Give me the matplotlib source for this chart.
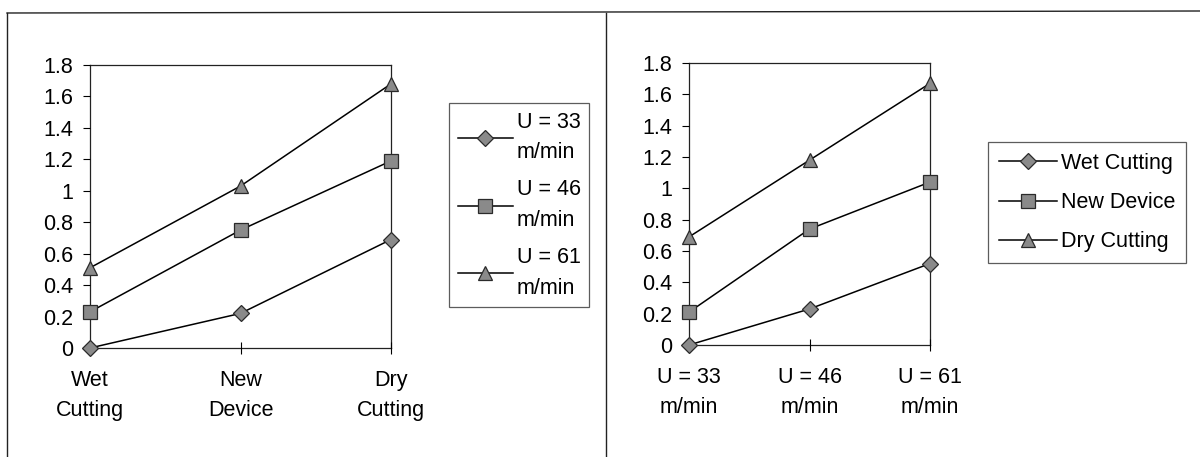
import matplotlib
matplotlib.use("Agg")
import matplotlib.pyplot as plt
from matplotlib.lines import Line2D

plt.rcParams['font.family'] = ['Liberation Sans', 'DejaVu Sans']

conditions = ["Wet\nCutting", "New\nDevice", "Dry\nCutting"]
condition_names = ["Wet Cutting", "New Device", "Dry Cutting"]
speeds = ["U = 33\nm/min", "U = 46\nm/min", "U = 61\nm/min"]

# values per speed across conditions (Wet, New, Dry)
u33 = [0.0, 0.22, 0.69]
u46 = [0.23, 0.75, 1.19]
u61 = [0.51, 1.03, 1.68]

# values per condition across speeds (U33, U46, U61)
wet = [0.0, 0.23, 0.52]
new = [0.21, 0.74, 1.04]
dry = [0.69, 1.18, 1.67]

yticks = [0, 0.2, 0.4, 0.6, 0.8, 1, 1.2, 1.4, 1.6, 1.8]
ytick_labels = ["0", "0.2", "0.4", "0.6", "0.8", "1", "1.2", "1.4", "1.6", "1.8"]

W, H = 1200, 457
fig = plt.figure(figsize=(W / 100, H / 100), dpi=100)

FS = 15.5
markers = [("D", 8.5), ("s", 9.5), ("^", 10.5)]
fill = "#8a8a8a"
edge = "#2a2a2a"


def px_axes(x0, y0, x1, y1):
    return fig.add_axes([x0 / W, 1 - y1 / H, (x1 - x0) / W, (y1 - y0) / H])


def style(ax, xlabels):
    ax.set_xlim(0, 2)
    ax.set_ylim(0, 1.8)
    ax.set_yticks(yticks)
    ax.set_yticklabels(ytick_labels, fontsize=FS)
    ax.set_xticks(range(3))
    ax.set_xticklabels(xlabels, fontsize=FS, linespacing=1.55)
    ax.tick_params(axis='y', direction='out', length=5, width=0.8, pad=7)
    ax.tick_params(axis='x', direction='inout', length=8, width=0.8, pad=12)
    for s in ax.spines.values():
        s.set_linewidth(0.9)
        s.set_color("#222222")
        s.set_zorder(1)


def plot_series(ax, series):
    handles = []
    for vals, (m, ms) in zip(series, markers):
        h, = ax.plot(range(3), vals, color="black", lw=1.1, marker=m, ms=ms,
                     mfc=fill, mec=edge, mew=0.9, clip_on=False, zorder=3)
        handles.append(h)
    return handles


ax1 = px_axes(90, 65, 391, 348)
h1 = plot_series(ax1, [u33, u46, u61])
style(ax1, conditions)

ax2 = px_axes(689, 63, 930, 345)
h2 = plot_series(ax2, [wet, new, dry])
style(ax2, speeds)

leg1 = fig.legend(h1, speeds, loc="upper left",
                  bbox_to_anchor=(449 / W, 1 - 103 / H), borderaxespad=0,
                  fontsize=FS, frameon=True, fancybox=False, edgecolor="#333333",
                  handlelength=2.55, handletextpad=0.2, labelspacing=0.75,
                  borderpad=0.4)
leg1.get_frame().set_linewidth(0.9)
for t in leg1.get_texts():
    t.set_linespacing(1.6)

leg2 = fig.legend(h2, condition_names, loc="upper left",
                  bbox_to_anchor=(988 / W, 1 - 142 / H), borderaxespad=0,
                  fontsize=FS, frameon=True, fancybox=False, edgecolor="#333333",
                  handlelength=2.7, handletextpad=0.2, labelspacing=0.85,
                  borderpad=0.5)
leg2.get_frame().set_linewidth(0.9)

# panel frames
frame_kw = dict(color="#222222", lw=1.0, transform=fig.transFigure)
fig.add_artist(Line2D([7 / W, 1.0], [1 - 13 / H, 1 - 11 / H], **frame_kw))
fig.add_artist(Line2D([7 / W, 7 / W], [1 - 13 / H, 0], **frame_kw))
fig.add_artist(Line2D([606 / W, 606 / W], [1 - 13 / H, 0], **frame_kw))

fig.savefig("out.png", dpi=100)
